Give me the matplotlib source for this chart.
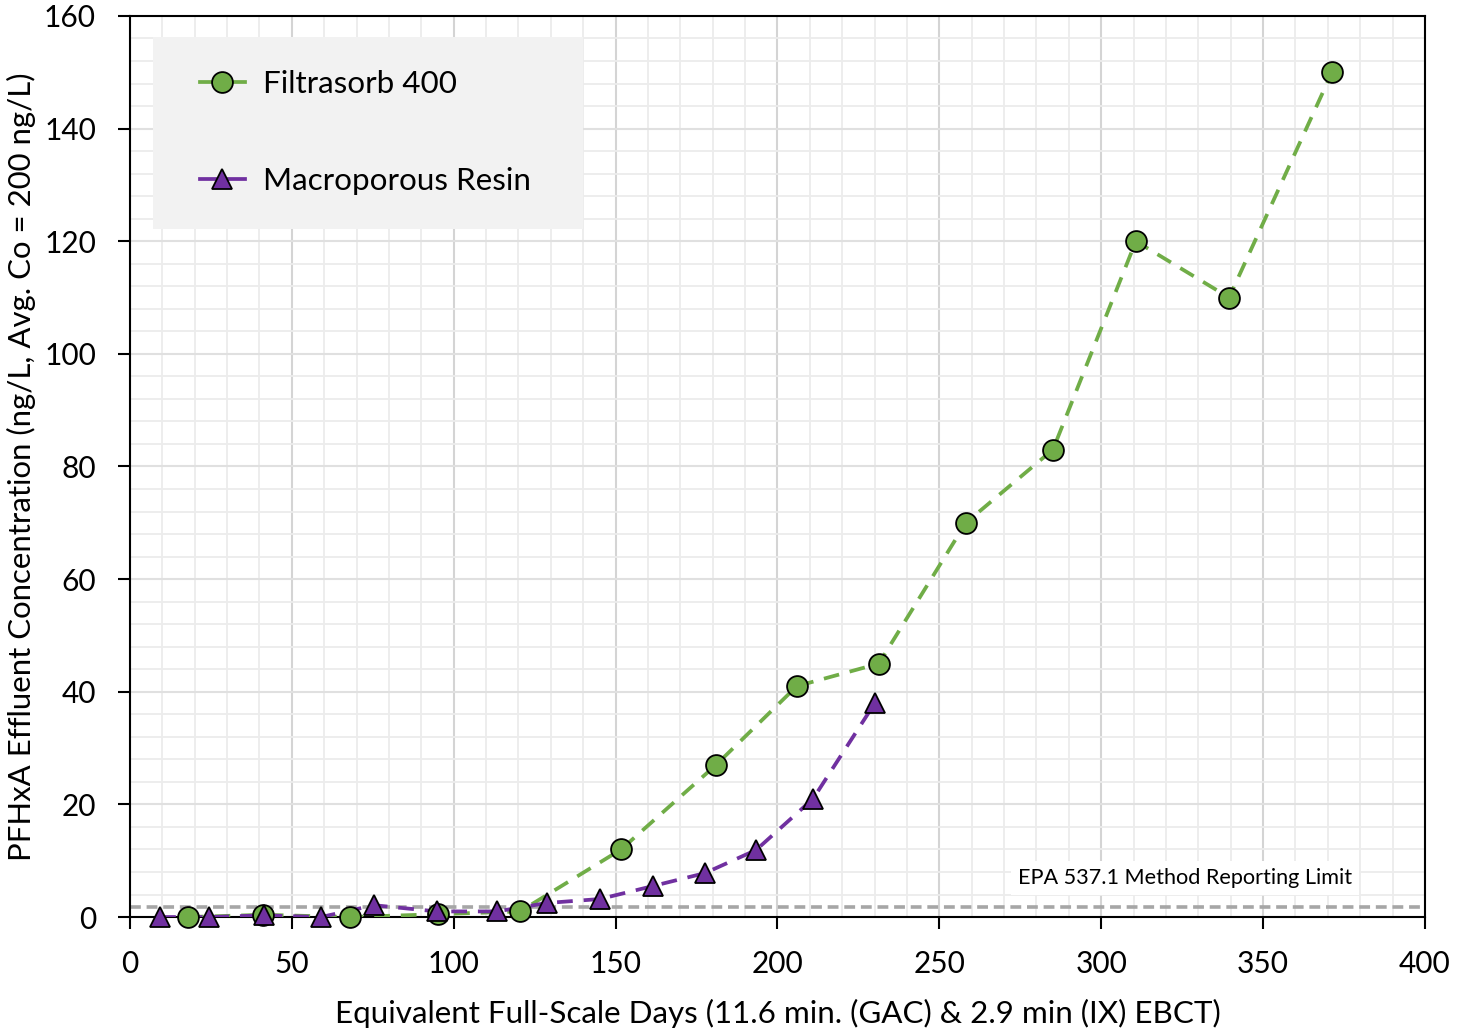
import numpy as np
import matplotlib.pyplot as plt
from matplotlib.lines import Line2D
from matplotlib.patches import Rectangle
from matplotlib.ticker import MultipleLocator

plt.rcParams['font.family'] = ['Lato', 'DejaVu Sans']

# Filtrasorb 400 (GAC)
gac_days = [17.9, 41.2, 68.0, 95.0, 120.5, 151.7, 181.0, 206.0, 231.3, 258.2, 285.1, 310.7, 339.5, 371.3]
gac_conc = [0.0, 0.4, 0.0, 0.5, 1.0, 12.0, 27.0, 41.0, 45.0, 70.0, 83.0, 120.0, 110.0, 150.0]

# Macroporous resin (IX)
ix_days = [9.3, 24.4, 41.5, 59.0, 75.4, 94.8, 113.4, 128.8, 145.2, 161.5, 177.6, 193.4, 211.0, 230.1]
ix_conc = [0.0, 0.0, 0.3, 0.0, 2.1, 1.0, 1.0, 2.5, 3.2, 5.5, 7.8, 11.9, 21.0, 38.0]

mrl = 1.8
mrl_label = "EPA 537.1 Method Reporting Limit"

green = "#70ad47"
purple = "#7030a0"

fig = plt.figure(figsize=(14.57, 10.29), dpi=100)
ax = fig.add_axes([0.0892, 0.1088, 0.8888, 0.8757])

ax.set_xlim(0, 400)
ax.set_ylim(0, 160)
ax.xaxis.set_major_locator(MultipleLocator(50))
ax.xaxis.set_minor_locator(MultipleLocator(10))
ax.yaxis.set_major_locator(MultipleLocator(20))
ax.yaxis.set_minor_locator(MultipleLocator(4))

ax.grid(which="minor", color="#ececec", lw=1.3)
ax.grid(which="major", axis="y", color="#e0e0e0", lw=1.5)
ax.grid(which="major", axis="x", color="#d4d4d4", lw=1.5)
ax.set_axisbelow(True)

ax.tick_params(which="minor", length=0)
ax.tick_params(which="major", direction="out", length=8.5, width=1.5,
               labelsize=21.5)
ax.tick_params(axis="x", pad=15)
ax.tick_params(axis="y", pad=16)
for s in ax.spines.values():
    s.set_linewidth(1.5)
    s.set_color("black")

ax.axhline(mrl, color="#a6a6a6", lw=2.6, ls=(0, (3, 1.6)), zorder=2)
ax.text(326, 6.9, mrl_label, fontsize=15.6, ha="center", va="center",
        bbox=dict(facecolor="white", edgecolor="none", pad=5), zorder=2.5)

ax.plot(gac_days, gac_conc, color=green, lw=2.7, ls=(0, (4.2, 2.9)), zorder=3)
ax.plot(ix_days, ix_conc, color=purple, lw=2.7, ls=(0, (4.2, 2.9)), zorder=3)

ax.plot(gac_days, gac_conc, ls="none", marker="o", ms=15, mfc=green,
        mec="black", mew=1.3, zorder=4, clip_on=False)
ax.plot(ix_days, ix_conc, ls="none", marker="^", ms=15, mfc=purple,
        mec="black", mew=1.3, zorder=4, clip_on=False)

# legend background box
ax.add_patch(Rectangle((0.0178, 0.7636), 0.332, 0.2131, transform=ax.transAxes,
                       facecolor="#f2f2f2", edgecolor="none", zorder=4.9))

handles = [
    Line2D([], [], color=green, lw=2.7, marker="o", ms=15, mfc=green,
           mec="black", mew=1.3),
    Line2D([], [], color=purple, lw=2.7, marker="^", ms=15, mfc=purple,
           mec="black", mew=1.3),
]
leg = ax.legend(handles, ["Filtrasorb 400", "Macroporous Resin"],
                loc="center left", bbox_to_anchor=(0.054, 0.8707),
                fontsize=22.6, frameon=False,
                handlelength=1.43, handletextpad=0.57, labelspacing=2.2,
                borderpad=0, borderaxespad=0)
leg.set_zorder(5)

ax.set_xlabel("Equivalent Full-Scale Days (11.6 min. (GAC) & 2.9 min (IX) EBCT)",
              fontsize=22.6, labelpad=15)
ax.set_ylabel("PFHxA Effluent Concentration (ng/L, Avg. Co = 200 ng/L)",
              fontsize=22.4, labelpad=5.5)

fig.savefig("out.png", dpi=100)
